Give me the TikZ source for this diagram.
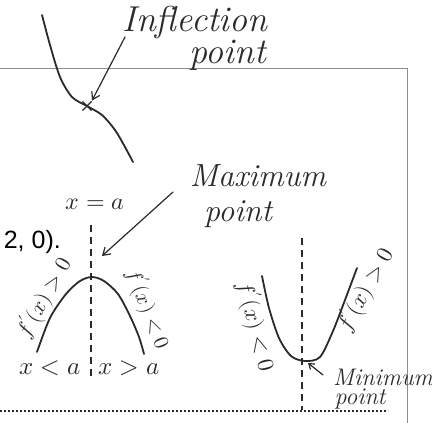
\documentclass[tikz,border=0pt]{standalone}
\usepackage{fontspec}
\usepackage{unicode-math}
\usetikzlibrary{arrows.meta,shapes.misc}
\newfontfamily\arialfont{Liberation Sans}
\definecolor{ink}{HTML}{2A2A2A}
\definecolor{sheet}{HTML}{8E8E8E}
\tikzset{
  curve/.style={ink, line width=1.8pt, line cap=round},
  guide/.style={ink, line width=1.1pt, dash pattern=on 7pt off 5pt},
  pointer/.style={ink, line width=1.2pt, line cap=round, -{Straight Barb[length=7pt,width=9pt]}},
  hand/.style={ink, inner sep=0pt, font=\fontsize{#1}{#1}\selectfont\itshape},
  hand/.default=24,
  mark x/.style={draw=ink, cross out, line width=1.2pt, inner sep=0pt, minimum size=8pt},
  sheetline/.style={sheet, line width=1pt},
  dotrow/.style={ink, line width=1.6pt, dash pattern=on 1.6pt off 2.4pt},
}
\newcommand{\branch}[1]{\draw[curve] plot[smooth] coordinates {#1};}

\begin{document}
\begin{tikzpicture}[x=1pt,y=-1pt]
  \useasboundingbox (0,0) rectangle (432,423);
  % printed page underneath
  \draw[sheetline] (0,68) -- (407,68) -- (407,423);
  \draw[dotrow] (0,411) -- (388,411);
  \node[font=\arialfont\fontsize{25}{25}\selectfont, anchor=base east, inner sep=0pt] (prnt) at (61,248) {2, 0).};
  % inflection
  \branch{(42,15) (50,45) (60,77) (72,97) (87,106) (102,115) (115,130) (125,147) (133,162)}
  \node[mark x] (infl) at (87,106) {};
  \node[hand=36] (infltxt) at (195,22) {Inflection};
  \node[hand=36] (inflpt) at (228,55) {point};
  \coordinate (infltail) at (125,37);
  \draw[pointer, shorten >=1pt] (infltail) -- (infl.north east);
  % maximum
  \draw[guide] (91,225) -- (91,380);
  \branch{(37,352) (50,318) (66,294) (80,281) (92,277) (104,281) (118,294) (130,316) (139,337) (144,354)}
  \coordinate (maxpt) at (102,256);
  \node[hand] (xeqa) at (95,204) {$x=a$};
  \node[hand=32] (maxtxt) at (258,176) {Maximum};
  \node[hand=32] (maxpttxt) at (238,214) {point};
  \coordinate (maxtail) at (173,192);
  \draw[pointer] (maxtail) -- (maxpt);
  \node[hand=22, rotate=60] (maxl) at (44,298) {$f'(x)>0$};
  \node[hand=21, rotate=-69] (maxr) at (148,309) {$f'(x)<0$};
  \node[hand=25] (xlta) at (50,368) {$x<a$};
  \node[hand=25] (xgta) at (129,368) {$x>a$};
  % minimum
  \draw[guide] (302,238) -- (302,410);
  \branch{(262,276) (269,308) (279,338) (291,356) (305,361) (320,357) (333,331) (345,300) (357,268)}
  \coordinate (minpt) at (308,363);
  \node[hand=23, rotate=-76] (minl) at (256,326) {$f'(x)<0$};
  \node[hand=23, rotate=61] (minr) at (365,290) {$f'(x)>0$};
  \node[hand=24] (mintxt) at (383,377) {Minimum};
  \node[hand=24] (minpttxt) at (360,399) {point};
  \coordinate (mintail) at (323,375);
  \draw[pointer, -{Straight Barb[length=5pt,width=7pt]}] (mintail) -- (minpt);
\end{tikzpicture}
\end{document}
